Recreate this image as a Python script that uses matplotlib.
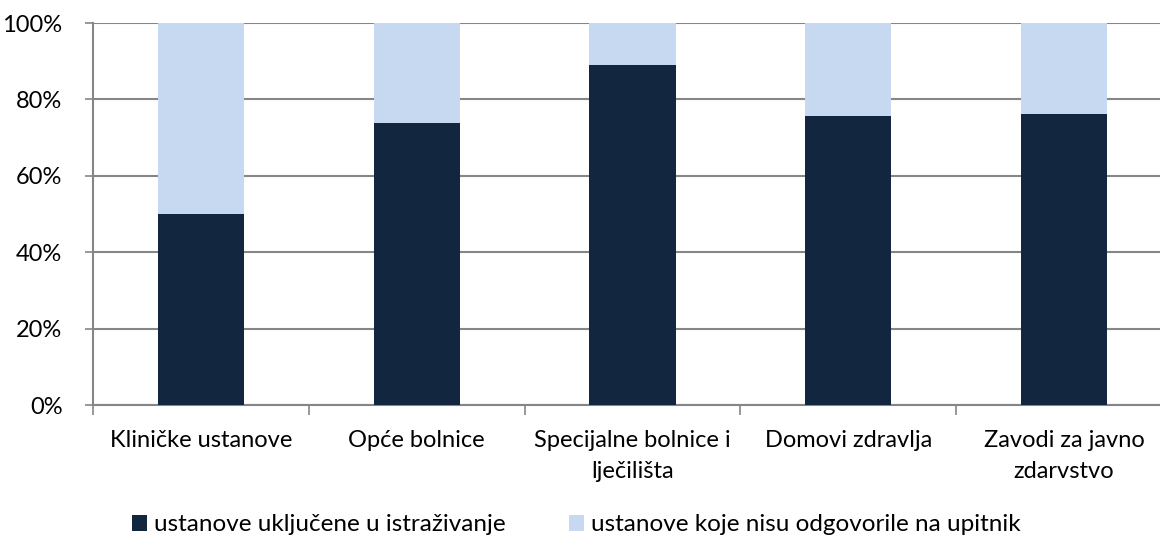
import matplotlib.pyplot as plt
import numpy as np

# categories and shares (percent)
categories = ["Kliničke ustanove", "Opće bolnice", "Specijalne bolnice i\nlječilišta",
              "Domovi zdravlja", "Zavodi za javno\nzdarvstvo"]
included = [50.0, 73.8, 89.0, 75.7, 76.3]
not_answered = [100 - v for v in included]
series_names = ["ustanove uključene u istraživanje", "ustanove koje nisu odgovorile na upitnik"]

dark = "#12263F"
light = "#C6D9F0"
grey = "#868686"

plt.rcParams['font.family'] = ['Lato', 'DejaVu Sans']

fig = plt.figure(figsize=(11.6, 5.39), dpi=100)
ax = fig.add_axes([93 / 1160, 1 - 405 / 539, 1079 / 1160, 382 / 539])

x = np.arange(len(categories))
ax.bar(x, included, width=0.4, color=dark, label=series_names[0], zorder=3)
ax.bar(x, not_answered, width=0.4, bottom=included, color=light, label=series_names[1], zorder=3)

ax.set_xlim(-0.5, len(categories) - 0.5)
ax.set_ylim(0, 100)
ax.set_yticks(range(0, 101, 20))
ax.set_yticklabels([f"{v}%" for v in range(0, 101, 20)], fontsize=17)
ax.yaxis.grid(True, color=grey, linewidth=1.5, zorder=0)

# category boundaries as ticks, labels centered
ax.set_xticks(np.arange(-0.5, len(categories), 1.0))
ax.set_xticklabels([])
ax.set_xticks(x, minor=True)
ax.set_xticklabels(categories, minor=True, fontsize=17, linespacing=1.6)
ax.tick_params(axis='x', which='major', length=7, color=grey, width=1.2)
ax.tick_params(axis='x', which='minor', length=0, pad=18)
ax.tick_params(axis='y', length=6, color=grey, width=1.2, pad=16)

for s in ['top', 'right']:
    ax.spines[s].set_visible(False)
for s in ['left', 'bottom']:
    ax.spines[s].set_color(grey)
    ax.spines[s].set_linewidth(1.5)

fig.legend(loc='center', bbox_to_anchor=(0.497, 0.026), ncol=2, frameon=False,
           fontsize=17.5, handlelength=0.6, handleheight=0.6, handletextpad=0.3,
           columnspacing=2.6, borderaxespad=0, borderpad=0)

fig.savefig("out.png", dpi=100)
